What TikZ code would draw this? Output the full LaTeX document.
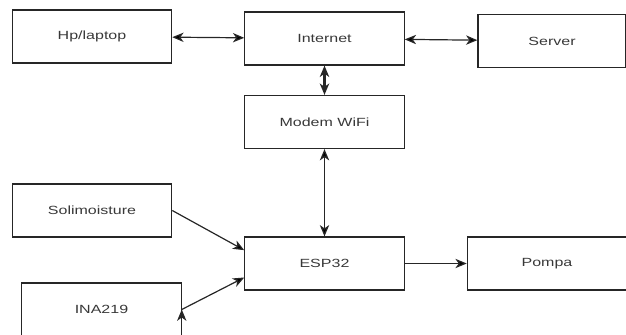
\documentclass[tikz,border=0pt]{standalone}
\usepackage{fontspec}
\setmainfont{Liberation Sans}[FakeStretch=1.35]
\usetikzlibrary{arrows.meta}

\begin{document}
\begin{tikzpicture}[x=0.75pt,y=-0.75pt,>={Stealth[length=8.5pt,width=7pt,inset=2.5pt]},
                    box/.style={draw=black!85,line width=0.9pt,minimum width=119.5pt,minimum height=39.75pt,
                                inner sep=0pt,text=black!78,font=\fontsize{8.9pt}{10pt}\selectfont}]
                      \useasboundingbox (0,0) rectangle (626,335);
                      \node[box]                         (hp)    at (92,36.5)   {Hp/laptop};
                      \node[box]                         (inet)  at (324.5,38.5) {Internet};
                      \node[box,minimum width=111pt]     (srv)   at (552,41)    {Server};
                      \node[box]                         (modem) at (324.5,122) {Modem WiFi};
                      \node[box]                         (soil)  at (92,210.5)  {Solimoisture};
                      \node[box]                         (esp)   at (324.5,263.5) {ESP32};
                      \node[box]                         (ina)   at (101.5,309.5) {INA219};
                      \node[box]                         (pompa) at (547,263.5) {Pompa};

                          \draw[<->, line width = 0.9pt, draw=black!85]
                                   (hp) edge (inet)
                                   (inet) edge (srv)
                                   (modem) edge (esp);
                          \draw[<->, line width = 1.6pt, draw=black!85]
                                   (inet) -- (modem);
                          \draw[->, line width = 0.9pt, draw=black!85]
                                   (soil.east) edge ([yshift=10pt]esp.west)
                                   (ina.east) edge ([yshift=-10.5pt]esp.west)
                                   (esp) edge (pompa);
          \end{tikzpicture}
\end{document}
